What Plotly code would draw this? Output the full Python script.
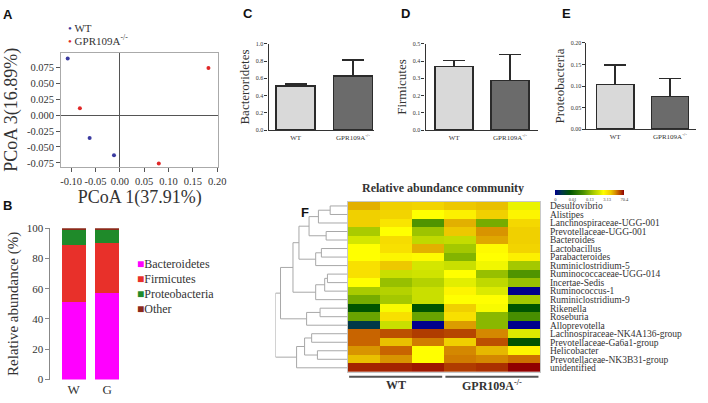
import plotly.graph_objects as go

W, H = 708, 403
def px(x): return x / W
def py(y): return 1 - y / H

SERIF = "Liberation Serif, Times New Roman, serif"
SANS = "Liberation Sans, Arial, sans-serif"

# ---------------- Panel A: PCoA ----------------
wt_pc1 = [-0.107, -0.062, -0.012]
wt_pc3 = [0.089, -0.036, -0.063]
ko_pc1 = [-0.082, 0.080, 0.182]
ko_pc3 = [0.011, -0.076, 0.074]
a_xticks = [-0.10, -0.05, 0.00, 0.05, 0.10, 0.15, 0.20]
a_xtext = ["-0.10", "-0.05", "0.00", "0.05", "0.10", "0.15", "0.20"]
a_yticks = [-0.075, -0.050, -0.025, 0.000, 0.025, 0.050, 0.075]
a_ytext = ["-0.075", "-0.050", "-0.025", "0.000", "0.025", "0.050", "0.075"]

# ---------------- Panel B: stacked phyla ----------------
groups_b = ["W", "G"]
phyla = ["Bacteroidetes", "Firmicutes", "Proteobacteria", "Other"]
phylum_colors = ["#ff00ff", "#e8302a", "#1f8a2a", "#8b2a1a"]
bacteroidetes_pct = [51.5, 57.5]
firmicutes_pct = [37.5, 32.5]
proteobacteria_pct = [10.0, 8.8]
other_pct = [1.0, 1.2]

# ---------------- Panels C, D, E ----------------
genotypes = ["WT", "GPR109A<sup>-/-</sup>"]
bact_mean = [0.513, 0.625]
bact_err = [0.022, 0.188]
firm_mean = [0.370, 0.287]
firm_err = [0.034, 0.151]
prot_mean = [0.104, 0.076]
prot_err = [0.045, 0.041]

# ---------------- Panel F: heatmap ----------------
samples = ["WT1", "WT2", "WT3", "KO1", "KO2", "KO3"]
genera = ["Desulfovibrio", "Alistipes", "Lanchnospiraceae-UGG-001", "Prevotellaceae-UGG-001",
          "Bacteroides", "Lactobacillus", "Parabacteroides", "Ruminiclostridium-5",
          "Ruminococcaceae-UGG-014", "Incertae-Sedis", "Ruminococcus-1", "Ruminiclostridium-9",
          "Rikenella", "Roseburia", "Alloprevotella", "Lachnospiraceae-NK4A136-group",
          "Prevotellaceae-Ga6a1-group", "Helicobacter", "Prevotellaceae-NK3B31-group", "unidentified"]
# scaled relative abundance (colour-bar position, 0 -> 0, 1 -> 70.4)
abund_z = [
    [0.84, 0.80, 0.79, 0.81, 0.82, 0.67],
    [0.80, 0.79, 0.70, 0.73, 0.80, 0.72],
    [0.80, 0.75, 0.42, 0.84, 0.48, 0.78],
    [0.56, 0.70, 0.54, 0.81, 0.87, 0.80],
    [0.64, 0.77, 0.60, 0.61, 0.85, 0.80],
    [0.70, 0.76, 0.84, 0.55, 0.71, 0.79],
    [0.70, 0.72, 0.71, 0.50, 0.70, 0.73],
    [0.76, 0.81, 0.64, 0.62, 0.68, 0.55],
    [0.76, 0.62, 0.63, 0.70, 0.53, 0.42],
    [0.70, 0.53, 0.58, 0.66, 0.60, 0.53],
    [0.56, 0.58, 0.62, 0.72, 0.65, 0.00],
    [0.48, 0.55, 0.62, 0.70, 0.70, 0.55],
    [0.22, 0.69, 0.22, 0.80, 0.69, 0.22],
    [0.46, 0.76, 0.46, 0.76, 0.51, 0.40],
    [0.10, 0.62, 0.00, 0.86, 0.51, 0.00],
    [0.91, 0.93, 0.95, 0.94, 0.88, 0.65],
    [0.91, 0.82, 0.89, 0.80, 0.93, 0.22],
    [0.87, 0.91, 0.70, 0.88, 0.83, 0.72],
    [0.82, 0.87, 0.70, 0.89, 0.88, 0.90],
    [0.97, 0.97, 0.98, 0.95, 0.96, 1.00],
]
cbar_tickvals = [0, 0.25, 0.5, 0.75, 1.0]
cbar_ticktext = ["0", "0.01", "0.13", "3.13", "70.4"]
sample_groups = [("WT", 0, 2), ("GPR109A<sup>-/-</sup>", 3, 5)]
# hierarchical clustering of rows: (node, node, distance); new nodes numbered from 20
row_merges = [(0, 1, 0.241), (20, 2, 0.404), (3, 4, 0.297), (21, 22, 0.534), (5, 6, 0.363),
              (24, 7, 0.442), (23, 25, 0.674), (8, 9, 0.279), (27, 10, 0.317), (28, 11, 0.442),
              (26, 29, 0.757), (12, 13, 0.381), (31, 14, 0.568), (30, 32, 0.930), (15, 16, 0.498),
              (17, 18, 0.418), (34, 35, 0.596), (36, 19, 0.707), (33, 37, 1.0)]

fig = go.Figure()

# A
fig.add_trace(go.Scatter(x=wt_pc1, y=wt_pc3, mode="markers", name="WT",
                         marker=dict(color="#3b3ba0", size=4), xaxis="x", yaxis="y", showlegend=False))
fig.add_trace(go.Scatter(x=ko_pc1, y=ko_pc3, mode="markers", name="GPR109A-/-",
                         marker=dict(color="#e02828", size=4), xaxis="x", yaxis="y", showlegend=False))

# B
for name, vals, col in zip(phyla, [bacteroidetes_pct, firmicutes_pct, proteobacteria_pct, other_pct], phylum_colors):
    fig.add_trace(go.Bar(x=groups_b, y=vals, name=name, marker=dict(color=col, line=dict(width=0)),
                         width=0.71, xaxis="x2", yaxis="y2", showlegend=False))

# C, D, E
bar_fill = ["#d9d9d9", "#6b6b6b"]
for i, (m, e) in enumerate([(bact_mean, bact_err), (firm_mean, firm_err), (prot_mean, prot_err)]):
    ax = str(i + 3)
    fig.add_trace(go.Bar(x=genotypes, y=m, width=0.68,
                         marker=dict(color=bar_fill, line=dict(color="#2b2b2b", width=1.5)),
                         error_y=dict(type="data", symmetric=False, array=e, arrayminus=[0, 0],
                                      color="#2b2b2b", thickness=1.5, width=11),
                         xaxis="x" + ax, yaxis="y" + ax, showlegend=False))

# F heatmap
cscale = [[0.00, "#00008c"], [0.10, "#003848"], [0.22, "#005400"], [0.42, "#4f9400"],
          [0.55, "#a4c800"], [0.64, "#d4e600"], [0.70, "#ffff00"], [0.76, "#f8e000"],
          [0.80, "#f0d000"], [0.84, "#e2b000"], [0.87, "#d89400"], [0.91, "#c86400"],
          [0.95, "#b03c00"], [1.00, "#900000"]]
fig.add_trace(go.Heatmap(z=abund_z, x=samples, y=list(range(len(genera))), colorscale=cscale,
                         zmin=0, zmax=1, xaxis="x6", yaxis="y6",
                         colorbar=dict(orientation="h", x=px(596.5), xanchor="center", y=py(190),
                                       yanchor="top", len=69, lenmode="pixels", thickness=5,
                                       tickvals=cbar_tickvals, ticktext=cbar_ticktext,
                                       tickfont=dict(size=4.5, family=SERIF, color="#444"),
                                       outlinewidth=0, ticks="", xpad=0, ypad=0)))

# dendrogram from merge list
n = len(genera)
pos = {i: (0.0, float(i)) for i in range(n)}
dx, dy = [], []
for k, (a, b, h) in enumerate(row_merges):
    ha, ya = pos[a]
    hb, yb = pos[b]
    dx += [ha, h, h, hb, None]
    dy += [ya, ya, yb, yb, None]
    pos[n + k] = (h, (ya + yb) / 2)
fig.add_trace(go.Scatter(x=dx, y=dy, mode="lines", line=dict(color="#a8a8a8", width=1),
                         xaxis="x7", yaxis="y6", showlegend=False, hoverinfo="skip"))

tick_font = dict(family=SERIF, color="#333")
axcommon = dict(showgrid=False, zeroline=False)

fig.update_layout(
    width=W, height=H, margin=dict(l=0, r=0, t=0, b=0),
    paper_bgcolor="white", plot_bgcolor="white", barmode="stack", hovermode=False,
    font=dict(family=SERIF, color="#333"),
    # A
    xaxis=dict(domain=[px(61), px(220)], range=[-0.1203, 0.202], anchor="y",
               tickvals=a_xticks, ticktext=a_xtext, tickangle=0, ticks="outside", ticklen=4, tickcolor="#555",
               showline=True, mirror=True, linecolor="#aaa", showgrid=False,
               zeroline=True, zerolinecolor="#555", zerolinewidth=1,
               tickfont=dict(size=10.5, **tick_font),
               title=dict(text="PCoA 1(37.91%)", font=dict(size=18, family=SERIF, color="#333"), standoff=2)),
    yaxis=dict(domain=[py(166), py(48)], range=[-0.0816, 0.0983], anchor="x",
               tickvals=a_yticks, ticktext=a_ytext, ticks="outside", ticklen=4, tickcolor="#555",
               showline=True, mirror=True, linecolor="#aaa", showgrid=False,
               zeroline=True, zerolinecolor="#555", zerolinewidth=1,
               tickfont=dict(size=10.5, **tick_font),
               title=dict(text="PCoA 3(16.89%)", font=dict(size=18, family=SERIF, color="#333"), standoff=4)),
    # B
    xaxis2=dict(domain=[px(50), px(124.4)], range=[-0.70, 1.5], anchor="y2", showline=False,
                ticks="", ticklen=0, tickfont=dict(size=13, **tick_font), **axcommon),
    yaxis2=dict(domain=[py(385), py(229)], range=[0, 100], anchor="x2", showline=True,
                linecolor="#888", ticks="outside", ticklen=4, tickcolor="#888",
                tickvals=[0, 20, 40, 60, 80, 100], tickfont=dict(size=11, **tick_font),
                title=dict(text="Relative abundance (%)", font=dict(size=15, family=SERIF, color="#333"), standoff=4),
                **axcommon),
    # C
    xaxis3=dict(domain=[px(271), px(378)], range=[-0.474, 1.371], anchor="y3", showline=True,
                linecolor="#333", linewidth=1.2, ticks="", ticklen=0, tickfont=dict(size=7, **tick_font), **axcommon),
    yaxis3=dict(domain=[py(128), py(39)], range=[0, 1.0], anchor="x3", showline=True, linecolor="#333",
                linewidth=1.2, ticks="outside", ticklen=3, tickcolor="#333", tickvals=[0, 0.2, 0.4, 0.6, 0.8, 1.0],
                tickformat=".1f", tickfont=dict(size=6, **tick_font),
                title=dict(text="Bacteroridetes", font=dict(size=13, family=SERIF, color="#333"), standoff=3),
                **axcommon),
    # D
    xaxis4=dict(domain=[px(430), px(544)], range=[-0.513, 1.504], anchor="y4", showline=True,
                linecolor="#333", linewidth=1.2, ticks="", ticklen=0, tickfont=dict(size=7, **tick_font), **axcommon),
    yaxis4=dict(domain=[py(128), py(39)], range=[0, 0.5], anchor="x4", showline=True, linecolor="#333",
                linewidth=1.2, ticks="outside", ticklen=3, tickcolor="#333", tickvals=[0, 0.1, 0.2, 0.3, 0.4, 0.5],
                tickformat=".1f", tickfont=dict(size=6, **tick_font),
                title=dict(text="Firmicutes", font=dict(size=13, family=SERIF, color="#333"), standoff=3),
                **axcommon),
    # E
    xaxis5=dict(domain=[px(593), px(704)], range=[-0.523, 1.477], anchor="y5", showline=True,
                linecolor="#333", linewidth=1.2, ticks="", ticklen=0, tickfont=dict(size=7, **tick_font), **axcommon),
    yaxis5=dict(domain=[py(127), py(38)], range=[0, 0.2], anchor="x5", showline=True, linecolor="#333",
                linewidth=1.2, ticks="outside", ticklen=3, tickcolor="#333", tickvals=[0, 0.05, 0.1, 0.15, 0.2],
                tickformat=".2f", tickfont=dict(size=6, **tick_font),
                title=dict(text="Proteobacteria", font=dict(size=13, family=SERIF, color="#333"), standoff=3),
                **axcommon),
    # F heatmap
    xaxis6=dict(domain=[px(351), px(546)], range=[-0.5, 5.5], anchor="y6", showticklabels=False,
                showline=True, mirror=True, linecolor="#c8c8c8", ticks="", **axcommon),
    yaxis6=dict(domain=[py(377.3), py(201.7)], range=[len(genera) - 0.5, -0.5], anchor="x6", side="right",
                tickvals=list(range(len(genera))), ticktext=genera, ticks="", ticklabelstandoff=7,
                showline=True, mirror=True, linecolor="#c8c8c8",
                tickfont=dict(size=9.5, **tick_font), **axcommon),
    xaxis7=dict(domain=[px(278), px(351)], range=[1.0, 0], anchor="y6", showticklabels=False,
                showline=False, ticks="", **axcommon),
)

annotations = []
# panel letters
for letter, (x, y) in zip("ABCDEF", [(7, 9), (7, 206), (250, 8), (410, 8), (573, 8), (308, 213)]):
    annotations.append(dict(text="<b>%s</b>" % letter, x=px(x), y=py(y), xref="paper", yref="paper",
                            showarrow=False, xanchor="center", yanchor="middle",
                            font=dict(family=SANS, size=13, color="#111")))
# A legend
annotations.append(dict(text="<span style='color:#3b3ba0'>•</span> WT", x=px(66), y=py(23),
                        xref="paper", yref="paper", showarrow=False, xanchor="left", yanchor="middle",
                        font=dict(size=11, family=SERIF, color="#333")))
annotations.append(dict(text="<span style='color:#e02828'>•</span> GPR109A<sup>-/-</sup>", x=px(66), y=py(35),
                        xref="paper", yref="paper", showarrow=False, xanchor="left", yanchor="middle",
                        font=dict(size=11, family=SERIF, color="#333")))
# B legend
for i, (name, col) in enumerate(zip(phyla, phylum_colors)):
    annotations.append(dict(text="<span style='color:%s'>■</span>%s" % (col, name), x=px(136), y=py(266 + 15.4 * i),
                            xref="paper", yref="paper", showarrow=False, xanchor="left", yanchor="middle",
                            font=dict(size=12, family=SERIF, color="#333")))
# F title
annotations.append(dict(text="<b>Relative abundance community</b>", x=px(448), y=py(188), xref="paper", yref="paper",
                        showarrow=False, xanchor="center", yanchor="middle",
                        font=dict(size=12, family=SERIF, color="#333")))
shapes = []
for label, c0, c1 in sample_groups:
    shapes.append(dict(type="line", xref="x6", yref="paper", x0=c0 - 0.45, x1=c1 + 0.45,
                       y0=py(382), y1=py(382), line=dict(color="#555", width=2)))
    annotations.append(dict(text="<b>%s</b>" % label, x=(c0 + c1) / 2, y=py(391), xref="x6", yref="paper",
                            showarrow=False, xanchor="center", yanchor="middle",
                            font=dict(size=12, family=SERIF, color="#333")))
fig.update_layout(annotations=annotations, shapes=shapes)

fig.write_html("out.html", config={"displayModeBar": False},
               post_script="document.body.style.margin='0';")
